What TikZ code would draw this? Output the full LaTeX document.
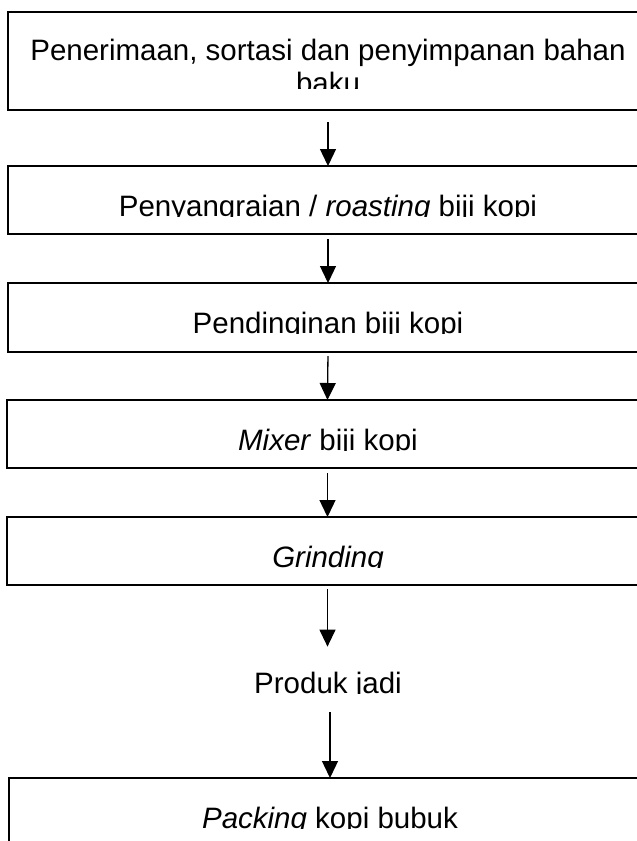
\documentclass[tikz,border=0pt]{standalone}
\usepackage{fontspec}
\setmainfont{Liberation Sans}
\usetikzlibrary{arrows.meta}
\begin{document}
\begin{tikzpicture}[x=1pt,y=-1pt,
  box/.style={draw=black, line width=1.4pt, inner sep=0pt, outer sep=0pt, anchor=north west},
  txt/.style={inner sep=0pt, outer sep=0pt, anchor=base, font=\fontsize{29.5}{33}\selectfont},
  arr/.style={draw=black, line width=1.3pt, -{Triangle[length=17pt,width=16pt]}}]
\clip (0,0) rectangle (637,841);
\fill[white] (0,0) rectangle (637,841);
% boxes
\node[box, minimum width=640pt, minimum height=98pt] (b1) at (8,12) {};
\node[box, minimum width=640pt, minimum height=68pt] (b2) at (8,166) {};
\node[box, minimum width=640pt, minimum height=69pt] (b3) at (8,283) {};
\node[box, minimum width=641pt, minimum height=68pt] (b4) at (7,400) {};
\node[box, minimum width=641pt, minimum height=68pt] (b5) at (7,517) {};
\node[box, minimum width=642pt, minimum height=90pt] (b6) at (9,778) {};
% texts (clipped like the original text boxes)
\begin{scope}
  \clip (8,12) rectangle (648,88);
  \node[txt] (t1a) at (328,60) {Penerimaan, sortasi dan penyimpanan bahan};
  \node[txt] (t1b) at (328,93) {baku};
\end{scope}
\begin{scope}
  \clip (8,166) rectangle (648,216.5);
  \node[txt] (t2) at (328,216) {Penyangraian / \textit{roasting} biji kopi};
\end{scope}
\begin{scope}
  \clip (8,283) rectangle (648,333.5);
  \node[txt] (t3) at (328,333) {Pendinginan biji kopi};
\end{scope}
\begin{scope}
  \clip (7,400) rectangle (648,450.5);
  \node[txt] (t4) at (328,450) {\textit{Mixer} biji kopi};
\end{scope}
\begin{scope}
  \clip (7,517) rectangle (648,567.5);
  \node[txt] (t5) at (328,567) {\textit{Grinding}};
\end{scope}
\begin{scope}
  \clip (0,640) rectangle (637,693.5);
  \node[txt] (pj) at (328,693) {Produk jadi};
\end{scope}
\begin{scope}
  \clip (9,778) rectangle (651,828.5);
  \node[txt] (t6) at (330,828) {\textit{Packing} kopi bubuk};
\end{scope}
% arrows
\draw[arr, shorten <=12pt] (b1.south) -- (b2.north);
\draw[arr, shorten <=5pt] (b2.south) -- (b3.north);
\draw[arr, shorten <=4pt] (b3.south) -- (b4.north);
\draw[arr, shorten <=5pt] (b4.south) -- (b5.north);
\draw[arr, shorten <=4pt, shorten >=25pt] (b5.south) -- (b5.south |- pj.north);
\draw[arr, shorten <=13pt] (b6.north |- pj.south) -- (b6.north);
\end{tikzpicture}
\end{document}
